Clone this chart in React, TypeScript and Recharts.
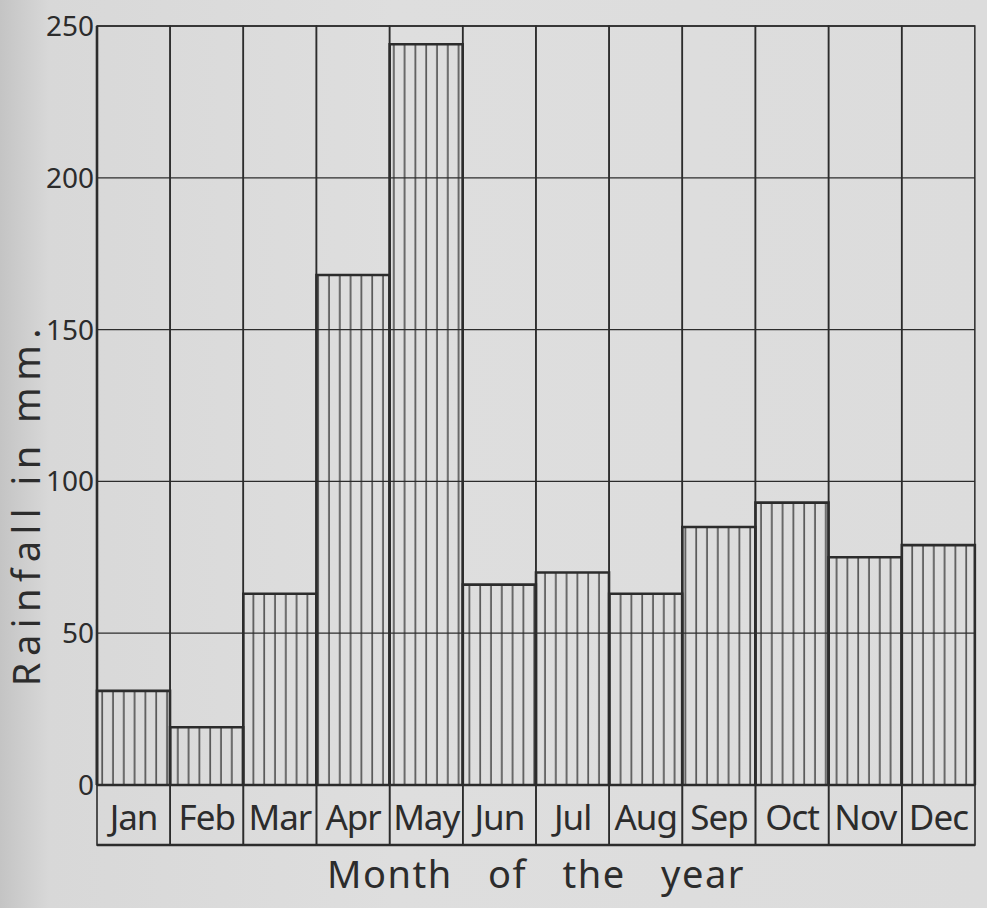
import React from 'react';
import { BarChart, Bar, XAxis, YAxis, CartesianGrid, Label } from 'recharts';

const months = ['Jan', 'Feb', 'Mar', 'Apr', 'May', 'Jun', 'Jul', 'Aug', 'Sep', 'Oct', 'Nov', 'Dec'];
const rainfall = [31, 19, 63, 168, 244, 66, 70, 63, 85, 93, 75, 79];
const yTicks = [0, 50, 100, 150, 200, 250];

const data = months.map((m, i) => ({ month: m, rain: rainfall[i] }));

const W = 987;
const H = 908;
const MARGIN = { top: 26, right: 12, left: 0, bottom: 0 };
const Y_W = 97;
const X_H = 123;
const BAND = (W - MARGIN.left - MARGIN.right - Y_W) / months.length;
const BOX_H = 60;
const INK = '#2c2c2c';
const FONT = '"Noto Sans", "DejaVu Sans", sans-serif';

const HatchedBar = (props: any) => {
  const { x, y, width, height } = props;
  if (!height) return null;
  return (
    <g>
      <rect x={x} y={y} width={width} height={height} fill="url(#hatch)" />
      <path
        d={`M${x},${y + height} L${x},${y} L${x + width},${y} L${x + width},${y + height}`}
        fill="none"
        stroke={INK}
        strokeWidth={2.6}
      />
    </g>
  );
};

const MonthTick = (props: any) => {
  const { x, y, payload } = props;
  return (
    <g>
      <rect x={x - BAND / 2} y={y} width={BAND} height={BOX_H} fill="none" stroke={INK} strokeWidth={1.6} />
      <line x1={x - BAND / 2} x2={x + BAND / 2} y1={y + BOX_H} y2={y + BOX_H} stroke={INK} strokeWidth={2.6} />
      <text x={x} y={y + 45} textAnchor="middle" fontSize={35} fill={INK} fontFamily={FONT} letterSpacing={-1}>
        {payload.value}
      </text>
    </g>
  );
};

const YTitle = (props: any) => {
  const vb = props.viewBox || { x: 0, y: 0, width: 0, height: 0 };
  const bx = vb.x + 40;
  const cy = vb.y + vb.height * 0.63;
  return (
    <text
      transform={`translate(${bx},${cy}) rotate(-90)`}
      textAnchor="middle"
      fontSize={38}
      letterSpacing={6.5}
      fill={INK}
      fontFamily={FONT}
    >
      Rainfall in mm.
    </text>
  );
};

export default function App() {
  return (
    <div
      style={{
        position: 'absolute',
        left: 0,
        top: 0,
        width: W,
        height: H,
        background: 'linear-gradient(90deg, #c4c4c4 0%, #d8d8d8 5%, #dedede 40%, #dcdcdc 100%)',
      }}
    >
      <BarChart width={W} height={H} data={data} margin={MARGIN} barCategoryGap={0}>
        <defs>
          <pattern id="hatch" patternUnits="userSpaceOnUse" width={10.8} height={12}>
            <line x1={5} x2={5} y1={0} y2={12} stroke={INK} strokeWidth={1.3} />
          </pattern>
        </defs>
        <CartesianGrid vertical={false} stroke={INK} strokeWidth={1.3} />
        <XAxis
          dataKey="month"
          height={X_H}
          tickLine={false}
          tickSize={0}
          tickMargin={0}
          axisLine={{ stroke: INK, strokeWidth: 2.6 }}
          tick={<MonthTick />}
          interval={0}
        >
          <Label
            value="Month of the year"
            position="insideBottom"
            offset={20}
            fontSize={38}
            fill={INK}
            fontFamily={FONT}
            style={{ wordSpacing: 24, letterSpacing: 1.5 }}
          />
        </XAxis>
        <YAxis
          width={Y_W}
          domain={[0, 250]}
          ticks={yTicks}
          tickLine={false}
          tickSize={0}
          tickMargin={3}
          axisLine={{ stroke: INK, strokeWidth: 2.6 }}
          tick={{ fill: INK, fontSize: 28, fontFamily: FONT }}
        >
          <Label content={<YTitle />} />
        </YAxis>
        <Bar
          dataKey="rain"
          isAnimationActive={false}
          shape={<HatchedBar />}
          background={{ fill: 'none', stroke: INK, strokeWidth: 1.5 }}
        />
      </BarChart>
    </div>
  );
}
